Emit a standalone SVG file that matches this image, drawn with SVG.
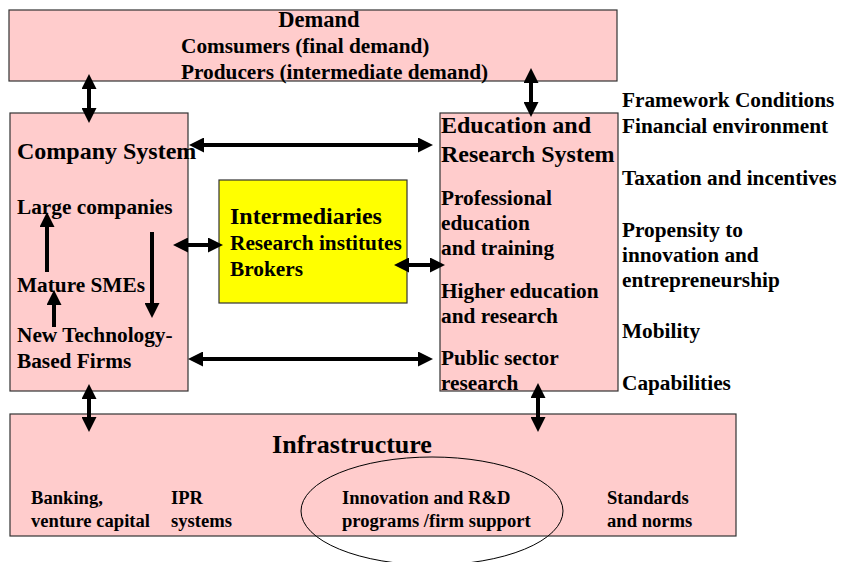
<svg xmlns="http://www.w3.org/2000/svg" width="842" height="562" viewBox="0 0 842 562">
<defs>
<style>
.box{fill:#FFCCCC;stroke:#333333;stroke-width:1.2}
.yel{fill:#FFFF00;stroke:#333333;stroke-width:1.2}
text{font-family:"Liberation Serif","Times New Roman",serif;font-weight:bold;fill:#000}
.t20{font-size:21.3px}
.t24{font-size:24px}
.t18{font-size:18.6px}
.t21{font-size:21.3px}
.arr{stroke:#000;stroke-width:4;fill:none}
.dbl{marker-start:url(#ah);marker-end:url(#ah)}
.sgl{marker-end:url(#ah)}
</style>
<marker id="ah" markerUnits="userSpaceOnUse" markerWidth="15" markerHeight="15" viewBox="0 -7.5 15 15" refX="0" refY="0" orient="auto-start-reverse">
<path d="M0,-7.5 L15,0 L0,7.5 z" fill="#000"/>
</marker>
</defs>

<g id="demand">
<rect class="box" x="9" y="10" width="608" height="71"/>
<text x="319" y="27" text-anchor="middle" style="font-size:22.5px">Demand</text>
<text class="t21" x="181" y="53">Comsumers (final demand)</text>
<text class="t21" x="181" y="79">Producers (intermediate demand)</text>
</g>

<g id="company">
<rect class="box" x="10" y="113" width="178" height="278"/>
<text class="t24" x="17" y="159">Company System</text>
<text class="t20" x="17" y="214">Large companies</text>
<text class="t20" x="17" y="292">Mature SMEs</text>
<text class="t20" x="17" y="342">New Technology-</text>
<text class="t20" x="17" y="368">Based Firms</text>
</g>

<g id="intermediaries">
<rect class="yel" x="219" y="180" width="188" height="123"/>
<text class="t24" x="230" y="224">Intermediaries</text>
<text class="t20" x="230" y="250">Research institutes</text>
<text class="t20" x="230" y="276">Brokers</text>
</g>

<g id="education">
<rect class="box" x="440" y="113" width="178" height="278"/>
<text class="t24" x="441" y="133">Education and</text>
<text class="t24" x="441" y="162">Research System</text>
<text class="t20" x="441" y="205">Professional</text>
<text class="t20" x="441" y="230">education</text>
<text class="t20" x="441" y="255">and training</text>
<text class="t20" x="441" y="298">Higher education</text>
<text class="t20" x="441" y="323">and research</text>
<text class="t20" x="441" y="365">Public sector</text>
<text class="t20" x="441" y="390">research</text>
</g>

<g id="framework">
<text class="t20" x="622" y="107">Framework Conditions</text>
<text class="t20" x="622" y="133">Financial environment</text>
<text class="t20" x="622" y="185">Taxation and incentives</text>
<text class="t20" x="622" y="237">Propensity to</text>
<text class="t20" x="622" y="262">innovation and</text>
<text class="t20" x="622" y="287">entrepreneurship</text>
<text class="t20" x="622" y="338">Mobility</text>
<text class="t20" x="622" y="390">Capabilities</text>
</g>

<g id="infrastructure">
<rect class="box" x="10" y="414" width="726" height="122"/>
<text x="352" y="453" text-anchor="middle" style="font-size:26px">Infrastructure</text>
<text class="t18" x="31" y="504">Banking,</text>
<text class="t18" x="31" y="527">venture capital</text>
<text class="t18" x="171" y="504">IPR</text>
<text class="t18" x="171" y="527">systems</text>
<text class="t18" x="342" y="504">Innovation and R&amp;D</text>
<text class="t18" x="342" y="527">programs /firm support</text>
<text class="t18" x="607" y="504">Standards</text>
<text class="t18" x="607" y="527">and norms</text>
<ellipse cx="432" cy="511" rx="131" ry="54" fill="none" stroke="#000" stroke-width="1"/>
</g>

<g id="connectors">
<line class="arr dbl" x1="89" y1="89" x2="89" y2="108"/>
<line class="arr dbl" x1="531" y1="83" x2="531" y2="102"/>
<line class="arr dbl" x1="204" y1="145" x2="418" y2="145"/>
<line class="arr dbl" x1="188" y1="245" x2="208" y2="245"/>
<line class="arr dbl" x1="409" y1="265" x2="430" y2="265"/>
<line class="arr dbl" x1="203" y1="359" x2="418" y2="359"/>
<line class="arr dbl" x1="89" y1="399" x2="89" y2="417"/>
<line class="arr dbl" x1="538" y1="398" x2="538" y2="417"/>
<line class="arr sgl" x1="47" y1="272" x2="47" y2="227"/>
<line class="arr sgl" x1="54" y1="327" x2="54" y2="305"/>
<line class="arr sgl" x1="152" y1="232" x2="152" y2="303"/>
</g>
</svg>
